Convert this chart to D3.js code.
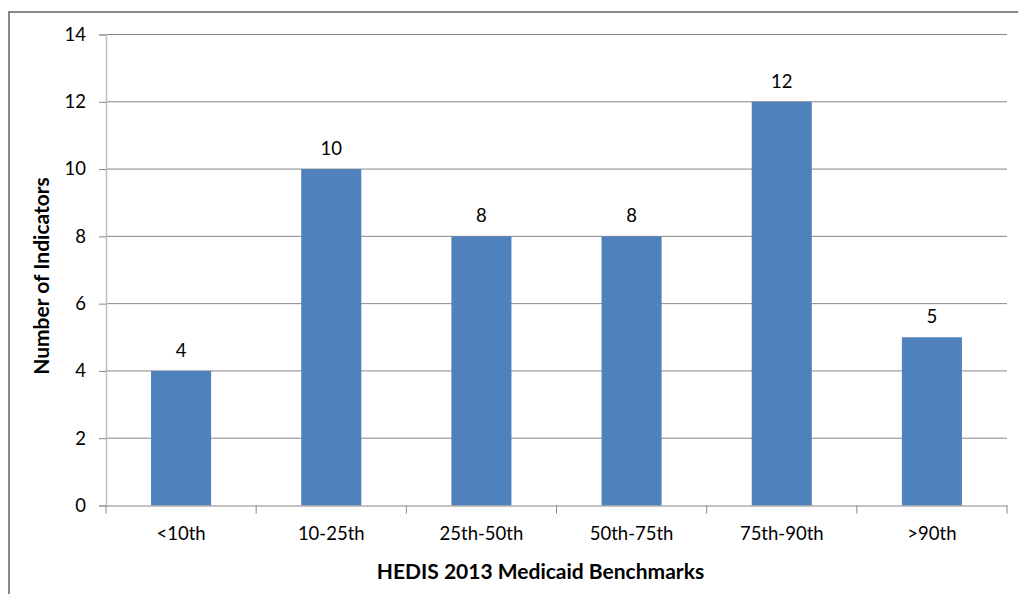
<!DOCTYPE html>
<html><head><meta charset="utf-8">
<script src="https://cdn.jsdelivr.net/npm/d3@7"></script>
<style>body{margin:0;background:#fff;} svg{display:block;}</style>
</head><body>
<svg id="c" width="1018" height="594"></svg>
<script>
const categories = ["<10th","10-25th","25th-50th","50th-75th","75th-90th",">90th"];
const values = [4,10,8,8,12,5];
const yTicks = [0,2,4,6,8,10,12,14];

const svg = d3.select("#c");
const font = "Lato, 'Open Sans', sans-serif";
const L = 106, R = 1007, T = 34.5, B = 505.5;

// outer frame
svg.append("path").attr("d","M9,594 L9,12 L1018,12")
  .attr("fill","none").attr("stroke","#888").attr("stroke-width",2);

const x = d3.scaleBand().domain(categories).range([L,R]).paddingInner(0.6).paddingOuter(0.3);
const xb = d3.scaleBand().domain(categories).range([L,R]);
const y = d3.scaleLinear().domain([0,14]).range([B,T]);

// gridlines
svg.append("g").selectAll("line").data(yTicks.filter(d=>d>0)).join("line")
  .attr("x1",L).attr("x2",R).attr("y1",d=>y(d)).attr("y2",d=>y(d))
  .attr("stroke","#878787").attr("stroke-width",1);

// y axis
const ya = svg.append("g").attr("transform",`translate(${L},0)`)
  .call(d3.axisLeft(y).tickValues(yTicks).tickSize(7).tickPadding(13).tickFormat(d3.format("d")));
ya.select(".domain").attr("stroke","#bfbfbf").attr("stroke-width",1.5);
ya.selectAll(".tick line").attr("stroke","#878787");
ya.selectAll("text").attr("font-family",font).attr("font-size",18.5).attr("fill","#000");

// bars
svg.append("g").selectAll("rect").data(values).join("rect")
  .attr("x",(d,i)=>x(categories[i])).attr("width",x.bandwidth())
  .attr("y",d=>y(d)).attr("height",d=>y(0)-y(d)).attr("fill","#4f81bd");

// x axis
const xa = svg.append("g").attr("transform",`translate(0,${B})`)
  .call(d3.axisBottom(xb).tickSize(0).tickPadding(21));
xa.select(".domain").attr("stroke","#878787").attr("stroke-width",1.2);
xa.selectAll("text").attr("font-family",font).attr("font-size",18.5).attr("fill","#000");
// boundary ticks
const bounds = categories.map(c=>xb(c)).concat([R]);
svg.append("g").selectAll("line").data(bounds).join("line")
  .attr("x1",d=>d).attr("x2",d=>d).attr("y1",B).attr("y2",B+8)
  .attr("stroke","#878787").attr("stroke-width",1);

// value labels
svg.append("g").selectAll("text").data(values).join("text")
  .attr("x",(d,i)=>x(categories[i])+x.bandwidth()/2).attr("y",d=>y(d)-14)
  .attr("text-anchor","middle").attr("font-family",font).attr("font-size",18.5).attr("fill","#000")
  .text(d=>d);

// axis titles
svg.append("text").attr("x",(L+R)/2-16).attr("y",579).attr("text-anchor","middle")
  .attr("font-family",font).attr("font-size",21).attr("font-weight","bold").text("HEDIS 2013 Medicaid Benchmarks");
svg.append("text").attr("transform",`translate(49,${(T+B)/2+6}) rotate(-90)`).attr("text-anchor","middle")
  .attr("font-family",font).attr("font-size",21).attr("font-weight","bold").text("Number of Indicators");
</script>
</body></html>
